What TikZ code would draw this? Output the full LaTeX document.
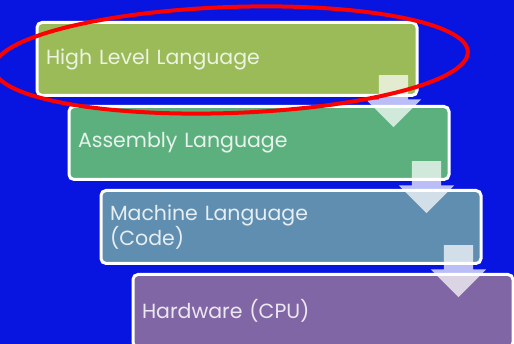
\documentclass[tikz,border=0pt]{standalone}
\usepackage{fontspec}
\setmainfont{Poppins}
\usetikzlibrary{shapes.arrows,positioning}
\definecolor{bgblue}{RGB}{8,20,224}
\definecolor{lvlA}{RGB}{155,187,89}
\definecolor{lvlB}{RGB}{92,176,126}
\definecolor{lvlC}{RGB}{95,142,176}
\definecolor{lvlD}{RGB}{128,102,164}
\tikzset{
  lang/.style = {draw=white, line width=3pt, rounded corners=5pt, minimum width=380pt, minimum height=73pt, inner xsep=9pt, text width=362pt, align=left, font=\fontsize{20.5}{23}\selectfont},
  down/.style = {single arrow, shape border rotate=270, fill=white, fill opacity=0.72, draw=none, minimum height=52pt, inner xsep=14.5pt, inner ysep=0pt, single arrow head extend=13pt, single arrow head indent=0pt, anchor=tail}
}
\begin{document}
\begin{tikzpicture}[x=1pt, y=1pt, node distance=8pt]
        \fill[bgblue] (0,0) rectangle (514,344);
        \useasboundingbox (0,0) rectangle (514,344);
        \node[lang, fill=lvlA, text=white!82!lvlA] (hll) at (227,285) {High Level Language};
        \node[lang, fill=lvlB, text=white!85!lvlB, below=of hll, xshift=32pt] (asm) {Assembly Language};
        \node[lang, fill=lvlC, text=white!85!lvlC, below=of asm, xshift=32pt] (mach) {Machine Language\\(Code)};
        \node[lang, fill=lvlD, text=white!85!lvlD, below=of mach, xshift=32pt] (hw) {Hardware (CPU)};
        \node[down] (arr1) at ([shift={(-25pt,22pt)}]hll.south east) {};
        \node[down] (arr2) at ([shift={(-24pt,20pt)}]asm.south east) {};
        \node[down] (arr3) at ([shift={(-24pt,20pt)}]mach.south east) {};
        \draw[red, line width=4pt, rotate around={2:(231,284)}] (231,284) ellipse [x radius=237, y radius=53];
    \end{tikzpicture}
\end{document}
